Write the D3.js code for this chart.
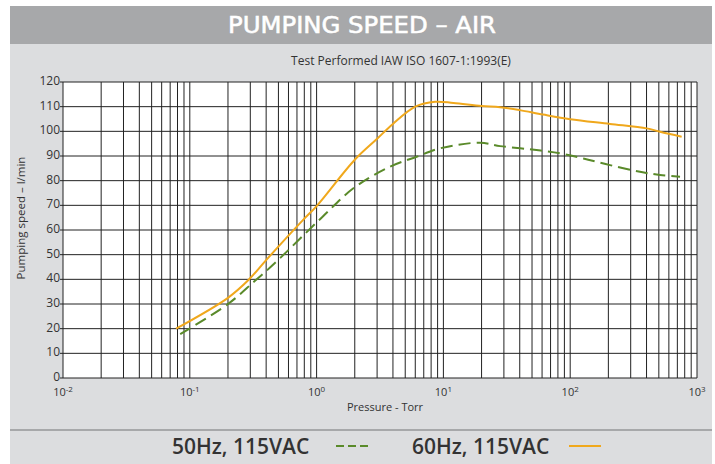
<!DOCTYPE html>
<html>
<head>
<meta charset="utf-8">
<script src="https://cdn.jsdelivr.net/npm/d3@7"></script>
<style>
  body { margin: 0; background: #fff; }
  svg text { font-family: "Open Sans", "DejaVu Sans", sans-serif; fill: #333; }
</style>
</head>
<body>
<div id="container"></div>
<script>
// data
const pressure60 = [0.078, 0.2, 0.29, 0.4, 0.78, 1, 2, 3, 4, 6, 8.6, 12, 20, 28, 40, 61, 100, 206, 401, 511, 757];
const speed60    = [20, 32.5, 39.7, 47.8, 64, 69.7, 88.5, 97, 103, 110, 112, 111.5, 110.3, 109.8, 108.6, 106.8, 104.9, 103, 101.2, 99.8, 97.8];
const pressure50 = [0.084, 0.2, 0.32, 0.46, 1.1, 1.95, 3.8, 6.15, 9.4, 19.5, 28, 48, 83, 127, 206, 355, 511, 735];
const speed50    = [17.8, 30, 39, 46.2, 65.1, 76.9, 85.7, 89.7, 93.1, 95.4, 94, 92.7, 91.1, 89, 86.3, 83.6, 82.3, 81.6];
const decades = [-2, -1, 0, 1, 2, 3];
const yTicks = d3.range(0, 121, 10);

const width = 715, height = 464;
const svg = d3.select('#container').append('svg')
  .attr('width', width)
  .attr('height', height);

// panel + title bar
svg.append('rect').attr('x', 10).attr('y', 6).attr('width', 702).attr('height', height - 6).attr('fill', '#dcdddf');
svg.append('rect').attr('x', 10).attr('y', 6).attr('width', 702).attr('height', 38).attr('fill', '#a7a8aa');
svg.append('line').attr('x1', 10).attr('x2', 712).attr('y1', 430).attr('y2', 430)
  .attr('stroke', '#a7a8aa').attr('stroke-width', 2);

svg.append('text')
  .attr('x', 362).attr('y', 33)
  .attr('text-anchor', 'middle')
  .attr('textLength', 268)
  .attr('lengthAdjust', 'spacingAndGlyphs')
  .style('font-family', '"Liberation Sans Narrow", "DejaVu Sans Condensed", sans-serif')
  .style('font-size', '23px')
  .style('fill', '#fff')
  .style('stroke', '#fff')
  .style('stroke-width', 0.5)
  .text('PUMPING SPEED – AIR');

svg.append('text')
  .attr('x', 401).attr('y', 65)
  .attr('text-anchor', 'middle')
  .style('font-size', '12px')
  .text('Test Performed IAW ISO 1607-1:1993(E)');

// scales
const x = d3.scaleLog().domain([0.01, 1000]).range([63, 697]);
const y = d3.scaleLinear().domain([0, 120]).range([378, 82]);

svg.append('rect')
  .attr('x', x(0.01)).attr('y', y(120))
  .attr('width', x(1000) - x(0.01)).attr('height', y(0) - y(120))
  .attr('fill', '#fff');

// grid
const vGrid = [];
decades.slice(0, -1).forEach(d => {
  for (let k = 1; k < 10; k++) vGrid.push(k * Math.pow(10, d));
});
vGrid.push(1000);

const grid = svg.append('g').attr('stroke', '#222').attr('stroke-width', 1);
grid.selectAll('line.v')
  .data(vGrid)
  .enter().append('line')
  .attr('class', 'v')
  .attr('x1', d => x(d)).attr('x2', d => x(d))
  .attr('y1', y(0)).attr('y2', y(120));
grid.selectAll('line.h')
  .data(yTicks)
  .enter().append('line')
  .attr('class', 'h')
  .attr('x1', x(0.01) - 3).attr('x2', x(1000))
  .attr('y1', d => y(d)).attr('y2', d => y(d));

// y tick labels
svg.append('g').selectAll('text')
  .data(yTicks)
  .enter().append('text')
  .attr('x', 60).attr('y', d => y(d) + 3)
  .attr('text-anchor', 'end')
  .style('font-size', '12px')
  .text(d => d);

// x tick labels (10^n)
const xl = svg.append('g').selectAll('text')
  .data(decades)
  .enter().append('text')
  .attr('x', d => x(Math.pow(10, d)))
  .attr('y', 396)
  .attr('text-anchor', 'middle')
  .style('font-size', '11px');
xl.append('tspan').text('10');
xl.append('tspan')
  .attr('dy', -4)
  .style('font-size', '8px')
  .text(d => d < 0 ? '-' + (-d) : d);

svg.append('text')
  .attr('x', 385).attr('y', 411)
  .attr('text-anchor', 'middle')
  .style('font-size', '11px')
  .text('Pressure - Torr');

svg.append('text')
  .attr('transform', 'translate(25,218) rotate(-90)')
  .attr('text-anchor', 'middle')
  .style('font-size', '11.5px')
  .text('Pumping speed – l/min');

// curves
const line = d3.line()
  .x(d => x(d[0]))
  .y(d => y(d[1]))
  .curve(d3.curveCatmullRom.alpha(0.5));

svg.append('path')
  .datum(pressure60.map((p, i) => [p, speed60[i]]))
  .attr('d', line)
  .attr('fill', 'none')
  .attr('stroke', '#f0a81c')
  .attr('stroke-width', 2);

svg.append('path')
  .datum(pressure50.map((p, i) => [p, speed50[i]]))
  .attr('d', line)
  .attr('fill', 'none')
  .attr('stroke', '#5a8a2a')
  .attr('stroke-width', 2)
  .attr('stroke-dasharray', '12,6');

// legend
const legend = svg.append('g').style('font-size', '21px').style('font-weight', 600);
legend.append('text').attr('x', 172).attr('y', 454).text('50Hz, 115VAC');
legend.append('line')
  .attr('x1', 336).attr('x2', 368).attr('y1', 446).attr('y2', 446)
  .attr('stroke', '#5a8a2a').attr('stroke-width', 2).attr('stroke-dasharray', '8,4');
legend.append('text').attr('x', 412).attr('y', 454).text('60Hz, 115VAC');
legend.append('line')
  .attr('x1', 569).attr('x2', 601).attr('y1', 446).attr('y2', 446)
  .attr('stroke', '#f0a81c').attr('stroke-width', 2);
</script>
</body>
</html>
